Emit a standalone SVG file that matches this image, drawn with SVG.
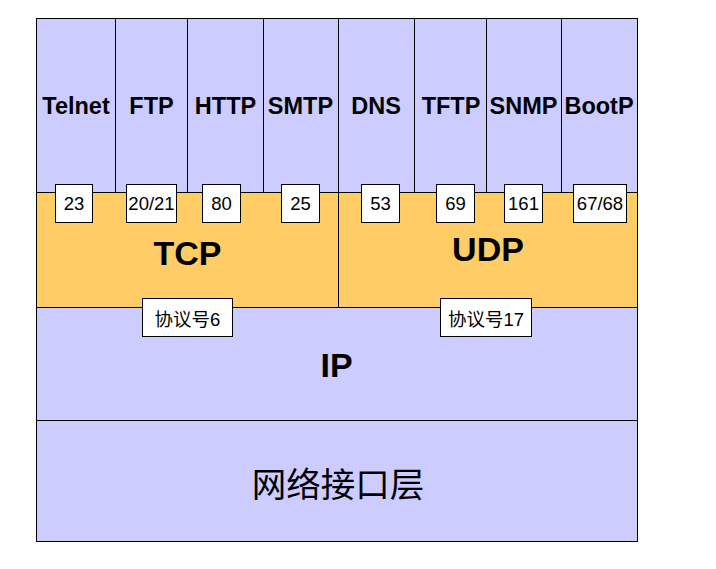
<svg xmlns="http://www.w3.org/2000/svg" width="716" height="569" viewBox="0 0 716 569">
<style>
.app{fill:#CCCCFF;stroke:#000;stroke-width:1}
.tr{fill:#FFCC66;stroke:#000;stroke-width:1}
.box{fill:#fff;stroke:#000;stroke-width:1}
text{font-family:"Liberation Sans","Noto Sans CJK SC",sans-serif;text-anchor:middle;fill:#000}
.al{font-size:23.5px;font-weight:bold}
.big{font-size:34px;font-weight:bold}
.pt{font-size:18.5px}
.cn{font-size:34.5px}
</style>
<rect width="716" height="569" fill="#fff"/>
<g id="telnet"><rect class="app" x="36.5" y="18.5" width="79" height="174"/><text class="al" x="76" y="113.5">Telnet</text></g>
<g id="ftp"><rect class="app" x="115.5" y="18.5" width="72" height="174"/><text class="al" x="151.5" y="113.5">FTP</text></g>
<g id="http"><rect class="app" x="187.5" y="18.5" width="76" height="174"/><text class="al" x="225.5" y="113.5">HTTP</text></g>
<g id="smtp"><rect class="app" x="263.5" y="18.5" width="75" height="174"/><text class="al" x="300.5" y="113.5">SMTP</text></g>
<g id="dns"><rect class="app" x="338.5" y="18.5" width="76" height="174"/><text class="al" x="376" y="113.5">DNS</text></g>
<g id="tftp"><rect class="app" x="414.5" y="18.5" width="72" height="174"/><text class="al" x="451" y="113.5">TFTP</text></g>
<g id="snmp"><rect class="app" x="486.5" y="18.5" width="75" height="174"/><text class="al" x="523.5" y="113.5">SNMP</text></g>
<g id="bootp"><rect class="app" x="561.5" y="18.5" width="76" height="174"/><text class="al" x="599" y="113.5">BootP</text></g>
<g id="tcp"><rect class="tr" x="36.5" y="192.5" width="302" height="115"/><text class="big" x="187.5" y="264.5">TCP</text></g>
<g id="udp"><rect class="tr" x="338.5" y="192.5" width="299" height="115"/><text class="big" x="488" y="260.5">UDP</text></g>
<g id="ip"><rect class="app" x="36.5" y="307.5" width="601" height="113"/><text class="big" x="336.5" y="377">IP</text></g>
<g id="netif"><rect class="app" x="36.5" y="420.5" width="601" height="121"/><text class="cn" x="338" y="497">网络接口层</text></g>
<g id="p23"><rect class="box" x="55.5" y="184.5" width="37" height="38"/><text class="pt" x="74" y="209.5">23</text></g>
<g id="p2021"><rect class="box" x="126.5" y="184.5" width="50" height="38"/><text class="pt" x="151.5" y="209.5">20/21</text></g>
<g id="p80"><rect class="box" x="202.5" y="184.5" width="38" height="38"/><text class="pt" x="221.5" y="209.5">80</text></g>
<g id="p25"><rect class="box" x="281.5" y="184.5" width="38" height="38"/><text class="pt" x="300.5" y="209.5">25</text></g>
<g id="p53"><rect class="box" x="361.5" y="184.5" width="38" height="38"/><text class="pt" x="380.5" y="209.5">53</text></g>
<g id="p69"><rect class="box" x="436.5" y="184.5" width="38" height="38"/><text class="pt" x="455.5" y="209.5">69</text></g>
<g id="p161"><rect class="box" x="504.5" y="184.5" width="38" height="38"/><text class="pt" x="523.5" y="209.5">161</text></g>
<g id="p6768"><rect class="box" x="573.5" y="184.5" width="53" height="38"/><text class="pt" x="600" y="209.5">67/68</text></g>
<g id="proto6"><rect class="box" x="142.5" y="298.5" width="90" height="38"/><text class="pt" x="187.5" y="325.5">协议号6</text></g>
<g id="proto17"><rect class="box" x="440.5" y="298.5" width="91" height="38"/><text class="pt" x="486" y="325.5">协议号17</text></g>
<g id="connectors"></g>
</svg>
